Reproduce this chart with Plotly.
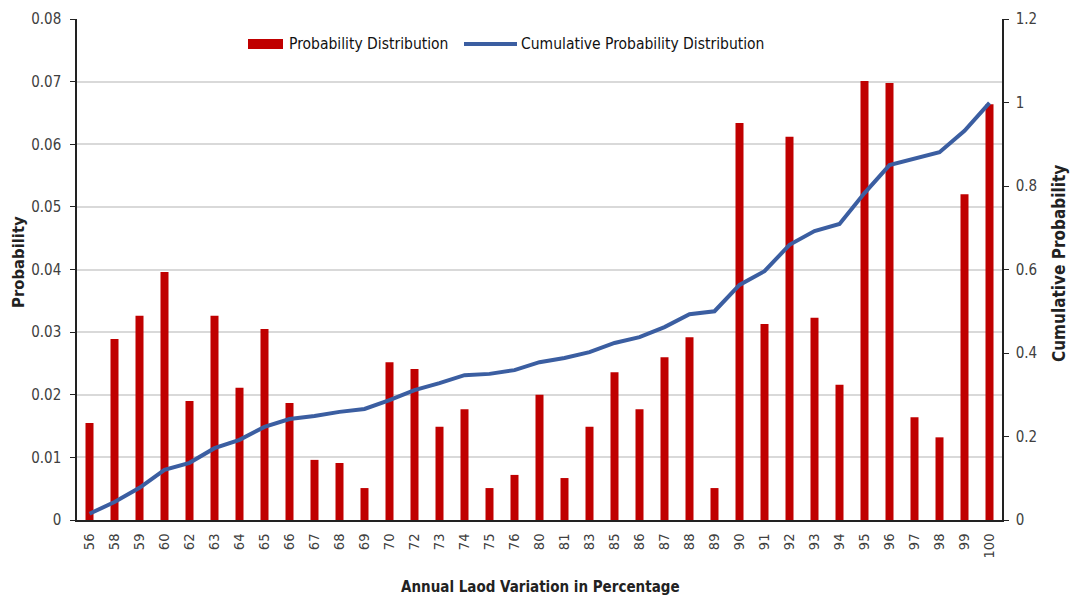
import plotly.graph_objects as go

# Annual load variation categories (percent of peak)
categories = ["56", "58", "59", "60", "62", "63", "64", "65", "66", "67",
              "68", "69", "70", "72", "73", "74", "75", "76", "80", "81",
              "83", "85", "86", "87", "88", "89", "90", "91", "92", "93",
              "94", "95", "96", "97", "98", "99", "100"]

# Probability of each load level
probability = [0.0155, 0.0289, 0.0326, 0.0396, 0.0190, 0.0326, 0.0211, 0.0305, 0.0187, 0.0096,
               0.0091, 0.0051, 0.0252, 0.0241, 0.0149, 0.0177, 0.0051, 0.0072, 0.0200, 0.0067,
               0.0149, 0.0236, 0.0177, 0.0260, 0.0292, 0.0051, 0.0634, 0.0313, 0.0612, 0.0323,
               0.0216, 0.0701, 0.0698, 0.0164, 0.0132, 0.0520, 0.0664]

# Cumulative probability
cumulative = [0.015, 0.043, 0.077, 0.120, 0.137, 0.172, 0.192, 0.223, 0.242, 0.249,
              0.259, 0.266, 0.287, 0.311, 0.328, 0.347, 0.350, 0.359, 0.378, 0.388,
              0.402, 0.424, 0.438, 0.462, 0.493, 0.500, 0.563, 0.596, 0.659, 0.692,
              0.709, 0.783, 0.850, 0.865, 0.881, 0.932, 0.999]

left_ticks = [0, 0.01, 0.02, 0.03, 0.04, 0.05, 0.06, 0.07, 0.08]
left_labels = ["0", "0.01", "0.02", "0.03", "0.04", "0.05", "0.06", "0.07", "0.08"]
right_ticks = [0, 0.2, 0.4, 0.6, 0.8, 1.0, 1.2]
right_labels = ["0", "0.2", "0.4", "0.6", "0.8", "1", "1.2"]

series_names = ["Probability Distribution", "Cumulative Probability Distribution"]
x_title = "Annual Laod Variation in Percentage"
y_title = "Probability"
y2_title = "Cumulative Probability"

FONT = "DejaVu Sans Condensed, Liberation Sans Narrow, Open Sans, sans-serif"
TEXT = "#404040"
DARK = "#222222"
RED = "#C00000"
BLUE = "#3B5EA1"

# Plot area in pixels (for placing the legend and titles in paper units)
W, H = 1070, 601
L, R, T, B = 77, 68, 19, 81
PW, PH = W - L - R, H - T - B


def px(x):
    return (x - L) / PW


def py(y):
    return (H - B - y) / PH


fig = go.Figure()
fig.add_trace(go.Bar(
    x=categories, y=probability, name=series_names[0],
    marker=dict(color=RED, line=dict(width=0)),
    yaxis="y", showlegend=False,
))
fig.add_trace(go.Scatter(
    x=categories, y=cumulative, name=series_names[1],
    mode="lines", line=dict(color=BLUE, width=4),
    yaxis="y2", showlegend=False,
))

# Legend keys and labels across the top of the plot
shapes = [
    dict(type="rect", xref="paper", yref="paper",
         x0=px(248), x1=px(283), y0=py(49), y1=py(39),
         fillcolor=RED, line=dict(width=0)),
    dict(type="line", xref="paper", yref="paper",
         x0=px(464), x1=px(517), y0=py(44), y1=py(44),
         line=dict(color=BLUE, width=4)),
]
annotations = [
    dict(text=series_names[0], xref="paper", yref="paper", x=px(287), y=py(44),
         xanchor="left", yanchor="middle", showarrow=False,
         font=dict(size=15.5, color="#111111")),
    dict(text=series_names[1], xref="paper", yref="paper", x=px(519), y=py(44),
         xanchor="left", yanchor="middle", showarrow=False,
         font=dict(size=15.5, color="#111111")),
    dict(text="<b>%s</b>" % x_title, xref="paper", yref="paper", x=px(540), y=py(587),
         xanchor="center", yanchor="middle", showarrow=False,
         font=dict(size=15, color=DARK)),
    dict(text="<b>%s</b>" % y_title, xref="paper", yref="paper", x=px(18), y=py(262),
         xanchor="center", yanchor="middle", showarrow=False, textangle=-90,
         font=dict(size=16.5, color=DARK)),
    dict(text="<b>%s</b>" % y2_title, xref="paper", yref="paper", x=px(1059), y=py(264),
         xanchor="center", yanchor="middle", showarrow=False, textangle=-90,
         font=dict(size=17, color=DARK)),
]

fig.update_layout(
    width=W, height=H,
    margin=dict(l=L, r=R, t=T, b=B, autoexpand=False),
    paper_bgcolor="white", plot_bgcolor="white",
    font=dict(family=FONT, size=14, color=TEXT),
    bargap=0.68,
    showlegend=False,
    shapes=shapes,
    annotations=annotations,
    xaxis=dict(
        type="category", range=[-0.5, 36.5],
        tickangle=-90, tickfont=dict(size=14.5, color=TEXT),
        showline=True, linecolor=DARK, linewidth=1.5,
        showgrid=False, ticks="", ticklabelstandoff=6,
    ),
    yaxis=dict(
        range=[0, 0.08], tickvals=left_ticks, ticktext=left_labels,
        tickfont=dict(size=15, color=TEXT),
        showline=True, linecolor=DARK, linewidth=1.5,
        ticks="outside", ticklen=5, tickcolor=DARK,
        showgrid=True, gridcolor="#D9D9D9", gridwidth=1.5,
        zeroline=False, ticklabelstandoff=6,
    ),
    yaxis2=dict(
        range=[0, 1.2], tickvals=right_ticks, ticktext=right_labels,
        overlaying="y", side="right",
        tickfont=dict(size=15, color=TEXT),
        showline=True, linecolor=DARK, linewidth=1.5,
        ticks="outside", ticklen=5, tickcolor=DARK,
        showgrid=False, zeroline=False, ticklabelstandoff=4,
    ),
)

fig.write_html("out.html")
